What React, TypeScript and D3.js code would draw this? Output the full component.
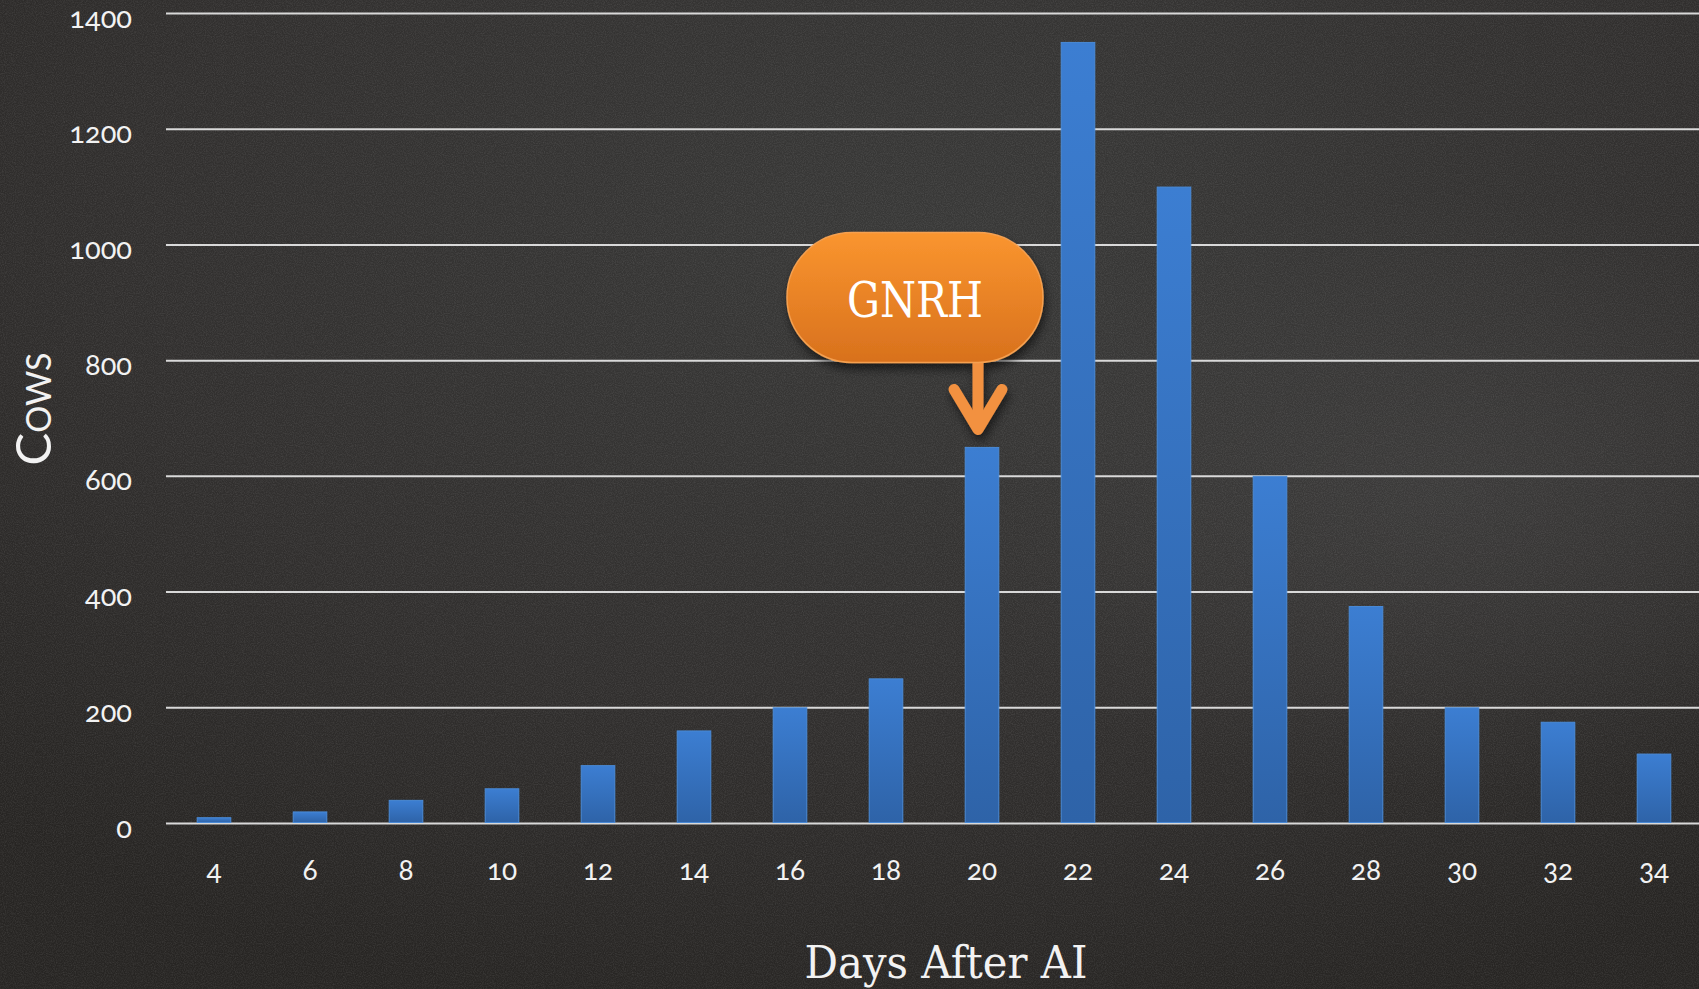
import React, { useEffect } from "react";
import * as d3 from "d3";

const days = ["4", "6", "8", "10", "12", "14", "16", "18", "20", "22", "24", "26", "28", "30", "32", "34"];
const cows = [10, 20, 40, 60, 100, 160, 200, 250, 650, 1350, 1100, 600, 375, 200, 175, 120];
const yTicks = [0, 200, 400, 600, 800, 1000, 1200, 1400];
const annotationDay = "20";
const annotationText = "GNRH";
const xTitle = "Days After AI";
const yTitle = "Cows";

const W = 1699;
const H = 989;

export default function App() {
  useEffect(() => {
    document.body.style.margin = "0";
  }, []);

  const x = d3.scaleBand<string>().domain(days).range([166, 1702]).paddingInner(0.65).paddingOuter(0.325);
  const y = d3.scaleLinear().domain([0, 1400]).range([823.5, 13.5]);

  const tickFont = "Lato, 'Open Sans', sans-serif";
  const serif = "'DejaVu Serif', 'Liberation Serif', serif";

  const annX = (x(annotationDay) ?? 0) + x.bandwidth() / 2 - 4;
  const annBarTop = y(cows[days.indexOf(annotationDay)]);
  const tipY = annBarTop - 18;
  const pillW = 256;
  const pillH = 130;
  const pillCx = annX - 63;
  const pillBottom = tipY - 67;
  const pillTop = pillBottom - pillH;

  return (
    <svg width={W} height={H} style={{ display: "block" }} xmlns="http://www.w3.org/2000/svg">
      <defs>
        <radialGradient id="bgGlow" cx="0.55" cy="0.25" r="0.8">
          <stop offset="0" stopColor="#393938" />
          <stop offset="0.6" stopColor="#312f2e" />
          <stop offset="1" stopColor="#272523" />
        </radialGradient>
        <radialGradient id="smudge" cx="0.85" cy="0.5" r="0.3">
          <stop offset="0" stopColor="#4a4a4a" stopOpacity="0.4" />
          <stop offset="1" stopColor="#4a4a4a" stopOpacity="0" />
        </radialGradient>
        <filter id="noise" x="0" y="0" width="100%" height="100%">
          <feTurbulence type="fractalNoise" baseFrequency="0.9" numOctaves="2" seed="3" result="n" />
          <feColorMatrix type="matrix" values="0 0 0 0 1  0 0 0 0 1  0 0 0 0 1  0 0 0 -1.6 1.05" />
        </filter>
        <linearGradient id="barGrad" x1="0" y1="0" x2="0" y2="1">
          <stop offset="0" stopColor="#3c7ed2" />
          <stop offset="1" stopColor="#2e63a8" />
        </linearGradient>
        <linearGradient id="pillGrad" x1="0" y1="0" x2="0" y2="1">
          <stop offset="0" stopColor="#fa952f" />
          <stop offset="1" stopColor="#d8711d" />
        </linearGradient>
        <filter id="shadow" x="-20%" y="-20%" width="140%" height="160%">
          <feDropShadow dx="2" dy="6" stdDeviation="5" floodColor="#000" floodOpacity="0.55" />
        </filter>
      </defs>

      <rect x={0} y={0} width={W} height={H} fill="url(#bgGlow)" />
      <rect x={0} y={0} width={W} height={H} fill="url(#smudge)" />
      <rect x={0} y={0} width={W} height={H} filter="url(#noise)" opacity={0.1} />

      {yTicks.map((t) => (
        <g key={t}>
          <line x1={166} x2={W} y1={y(t)} y2={y(t)} stroke="#d9d9d9" strokeWidth={2} />
          <text
            x={132}
            y={y(t) + 14}
            textAnchor="end"
            fill="#f2f2f2"
            fontFamily={tickFont}
            fontSize={29}
            style={{ fontVariantNumeric: "oldstyle-nums" }}
          >
            {t}
          </text>
        </g>
      ))}

      {days.map((d, i) => (
        <rect
          key={d}
          x={x(d)}
          y={y(cows[i])}
          width={x.bandwidth()}
          height={y(0) - y(cows[i]) - 1}
          fill="url(#barGrad)"
          stroke="#4a8ad6"
          strokeWidth={1}
        />
      ))}

      {days.map((d) => (
        <text
          key={d}
          x={(x(d) ?? 0) + x.bandwidth() / 2}
          y={880}
          textAnchor="middle"
          fill="#f2f2f2"
          fontFamily={tickFont}
          fontSize={28}
          style={{ fontVariantNumeric: "oldstyle-nums" }}
        >
          {d}
        </text>
      ))}

      <text
        transform={`translate(51,409) rotate(-90)`}
        textAnchor="middle"
        fill="#f2f2f2"
        fontFamily={tickFont}
        fontSize={49}
        style={{ fontVariant: "small-caps" }}
      >
        {yTitle}
      </text>

      <text
        x={946}
        y={978}
        textAnchor="middle"
        fill="#f2f2f2"
        fontFamily={serif}
        fontSize={44}
        textLength={283}
        lengthAdjust="spacingAndGlyphs"
      >
        {xTitle}
      </text>

      <g filter="url(#shadow)">
        <line x1={annX} x2={annX} y1={pillBottom - 4} y2={tipY - 4} stroke="#f29140" strokeWidth={11} />
        <polyline
          points={`${annX - 24},${tipY - 40} ${annX},${tipY} ${annX + 24},${tipY - 40}`}
          fill="none"
          stroke="#f29140"
          strokeWidth={11}
          strokeLinecap="round"
          strokeLinejoin="round"
        />
        <rect
          x={pillCx - pillW / 2}
          y={pillTop}
          width={pillW}
          height={pillH}
          rx={pillH / 2}
          ry={pillH / 2}
          fill="url(#pillGrad)"
          stroke="#f5a050"
          strokeWidth={1.5}
        />
      </g>
      <text
        x={pillCx}
        y={pillTop + 85}
        textAnchor="middle"
        fill="#ffffff"
        fontFamily={serif}
        fontSize={48}
        textLength={136}
        lengthAdjust="spacingAndGlyphs"
      >
        {annotationText}
      </text>
    </svg>
  );
}
